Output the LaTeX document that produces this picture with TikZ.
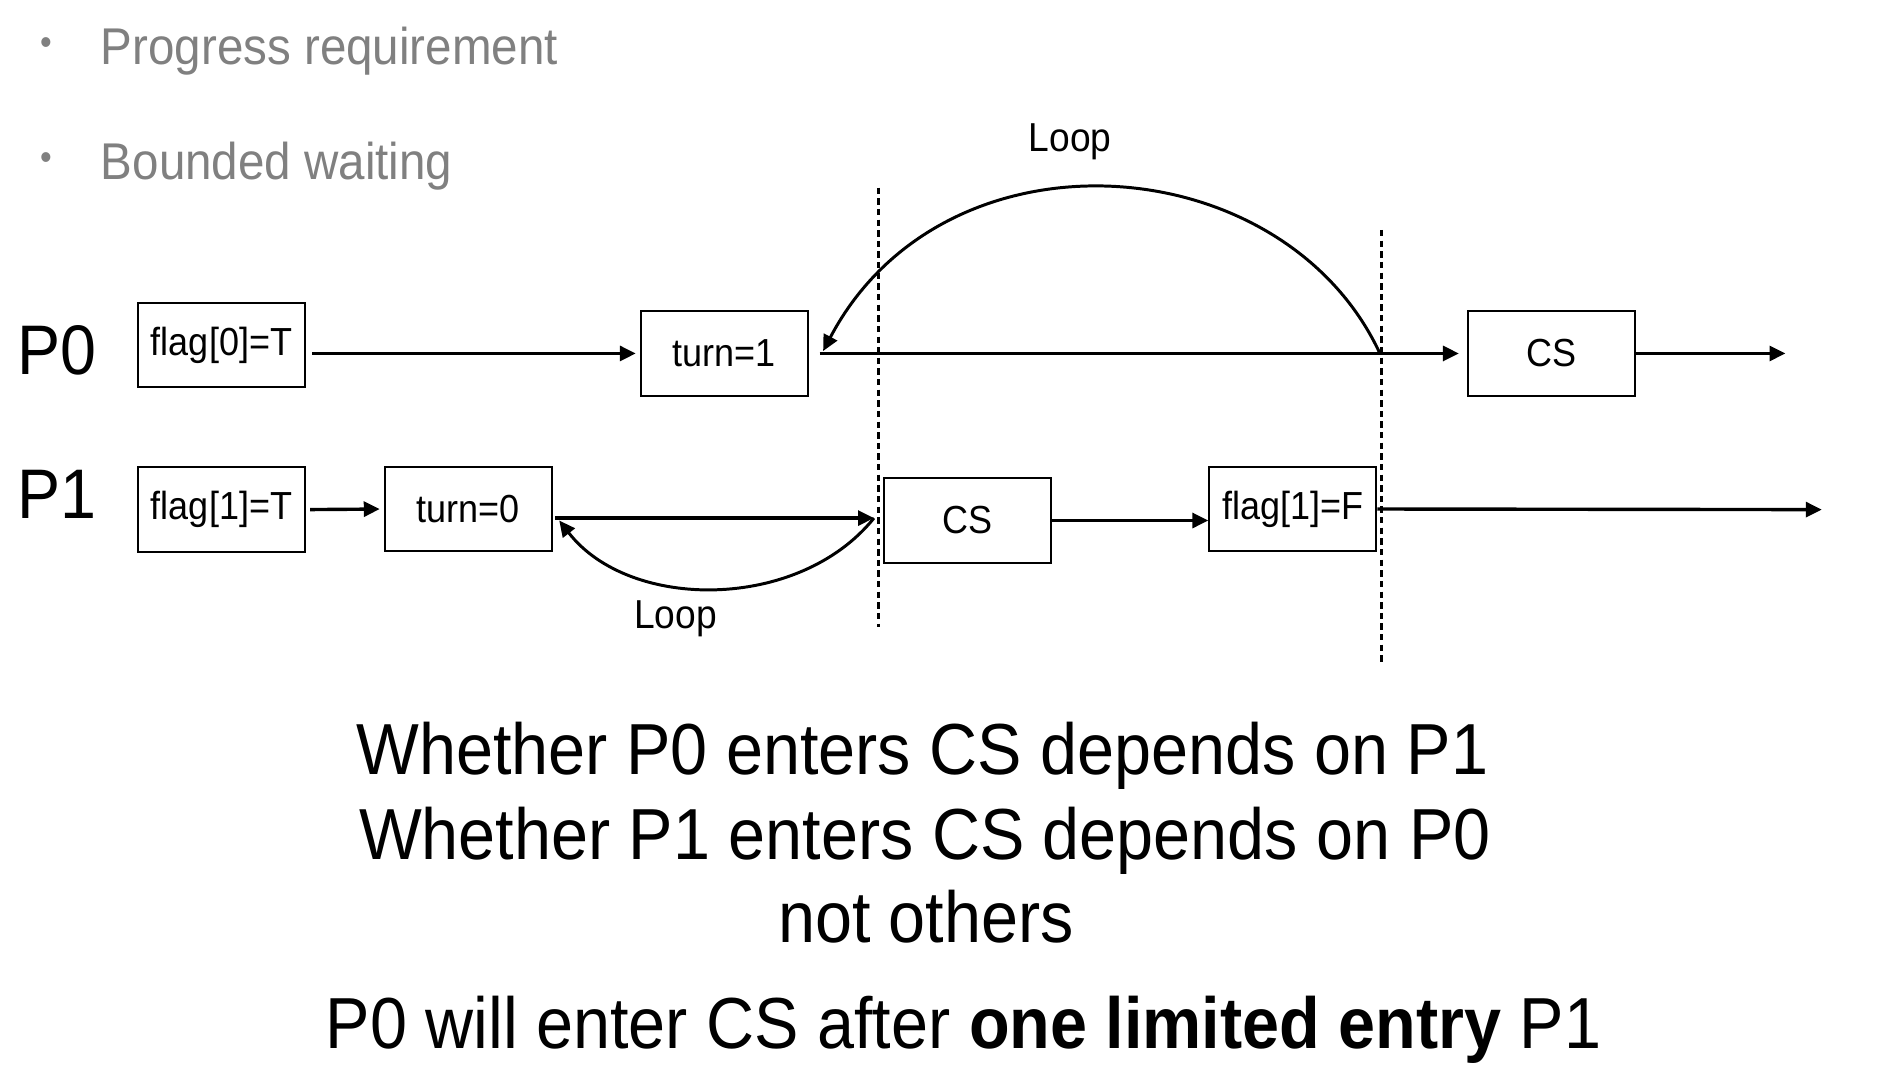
\documentclass[tikz,border=0pt]{standalone}
\usepackage{fontspec}
\setmainfont[FakeStretch=0.92]{Liberation Sans}
\usetikzlibrary{arrows.meta}
\definecolor{bulletgray}{gray}{0.5}

\begin{document}
\begin{tikzpicture}
  [x=0.02cm,y=-0.02cm,
   box/.style={draw,line width=0.9pt,minimum width=2.76cm,minimum height=1.4cm,inner sep=0pt,font=\fontsize{18.4}{22}\selectfont},
   flow/.style={line width=1.6pt,-{Triangle[length=7.5pt,width=7pt]}},
   bar/.style={line width=1.4pt,dash pattern=on 3pt off 2pt},
   item/.style={anchor=base west,text=bulletgray,inner sep=0pt,font=\fontsize{24.3}{30}\selectfont},
   dot/.style={text=bulletgray,inner sep=0pt,font=\fontsize{17}{20}\selectfont},
   proc/.style={anchor=base west,inner sep=0pt,font=\fontsize{33}{40}\selectfont},
   claim/.style={anchor=base,inner sep=0pt,font=\fontsize{34}{40}\selectfont},
   note/.style={font=\fontsize{19}{23}\selectfont}]

  \useasboundingbox (0,0) rectangle (1568,890.6);

  % the two requirements
  \node[dot]  (d0) at (38,38)  {•};
  \node[item] (r0) at (83,53)  {Progress requirement};
  \node[dot]  (d1) at (38,133) {•};
  \node[item] (r1) at (83,148) {Bounded waiting};

  % processes
  \node[proc] (p0) at (14,309) {P0};
  \node[proc] (p1) at (14,428) {P1};

  \node[box] (f0)  at (183,285)   {flag[0]=T};
  \node[box] (t1)  at (598.5,292) {turn=1};
  \node[box] (cs0) at (1282,292)  {CS};

  \node[box] (f1)  at (183,421)   {flag[1]=T};
  \node[box] (t0)  at (387,420.5) {turn=0};
  \node[box] (cs1) at (799,430)   {CS};
  \node[box] (f1f) at (1068,420.5) {flag[1]=F};

  \coordinate (e0) at (1475,292);
  \coordinate (e1) at (1505,421);
  \coordinate (q0) at (1140,292);
  \coordinate (q1) at (680,290);
  \coordinate (w0) at (722,428);
  \coordinate (w1) at (462,430);

  % P0 row
  \draw[flow,shorten <=3pt,shorten >=2pt] (f0.east |- t1.west) -- (t1.west);
  \draw[flow,shorten <=5pt,shorten >=4pt] (t1.east) -- (cs0.west);
  \draw[flow] (cs0.east) -- (e0);
  \draw[flow,line width=1.4pt] (q0) .. controls (1060,120) and (780,100) .. (q1);
  \node[note] (l0) at (884,117) {Loop};

  % P1 row
  \draw[flow,shorten <=2pt,shorten >=2pt] (f1.east) -- (t0.west);
  \draw[flow,shorten <=1pt] (t0.east |- w0) -- (w0);
  \draw[flow,line width=1.4pt] (w0) .. controls (660,505) and (520,505) .. (w1);
  \node[note] (l1) at (558,511) {Loop};
  \draw[flow] (cs1.east) -- (cs1.east -| f1f.west);
  \draw[flow] (f1f.east) -- (e1);

  % the two cuts
  \draw[bar] (726,155) -- (726,518);
  \draw[bar] (1141,190) -- (1141,550);

  % conclusions
  \node[claim] (c0) at (762,640) {Whether P0 enters CS depends on P1};
  \node[claim] (c1) at (764,710) {Whether P1 enters CS depends on P0};
  \node[claim] (c2) at (765,779) {not others};
  \node[claim] (c3) at (796,866) {P0 will enter CS after \textbf{one limited entry} P1};

\end{tikzpicture}
\end{document}
